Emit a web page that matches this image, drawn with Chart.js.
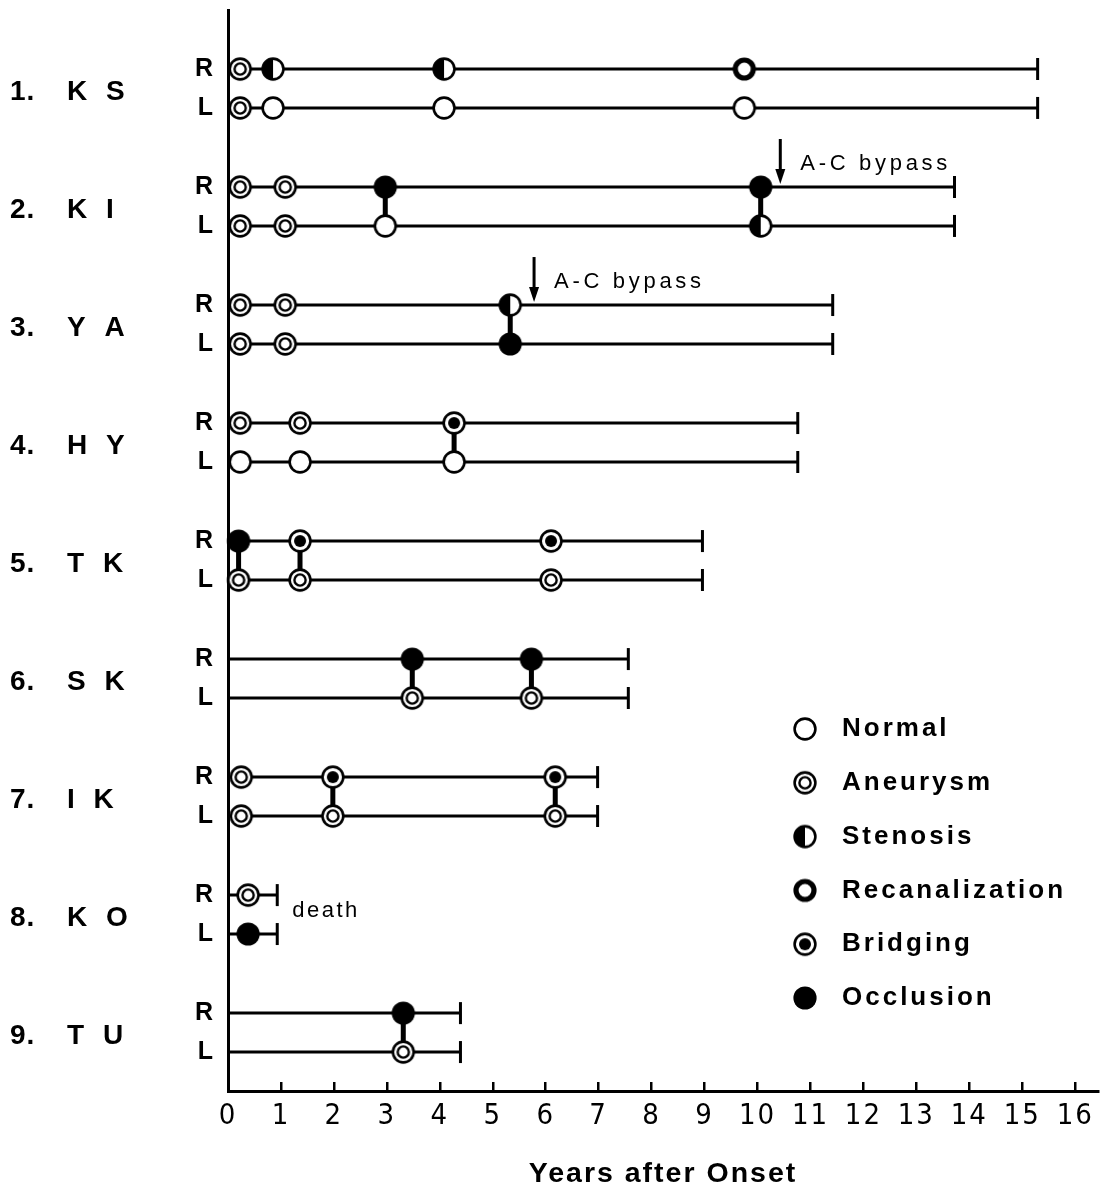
<!DOCTYPE html>
<html>
<head>
<meta charset="utf-8">
<title>Years after Onset</title>
<script src="https://cdn.jsdelivr.net/npm/chart.js@4.4.1/dist/chart.umd.min.js"></script>
<style>
  html, body { margin: 0; padding: 0; background: #fff; }
  canvas { display: block; }
</style>
</head>
<body>
<canvas id="chart" width="1101" height="1188"></canvas>
<script>
// patients, top to bottom
const patientNumbers = ['1.', '2.', '3.', '4.', '5.', '6.', '7.', '8.', '9.'];
const patientInitials = ['K S', 'K I', 'Y A', 'H Y', 'T K', 'S K', 'I K', 'K O', 'T U'];

// years of follow-up (end of each line)
const followUpYears = [15.29, 13.72, 11.42, 10.76, 8.96, 7.56, 6.98, 0.93, 4.39];

// years of each angiographic examination
const examYears = [
  [0.23, 0.85, 4.08, 9.75],
  [0.23, 1.08, 2.97, 10.06],
  [0.23, 1.08, 5.33],
  [0.23, 1.36, 4.27],
  [0.2, 1.36, 6.1],
  [3.48, 5.73],
  [0.25, 1.98, 6.18],
  [0.38],
  [3.31]
];

const rightFindings = [
  ['Aneurysm', 'Stenosis', 'Stenosis', 'Recanalization'],
  ['Aneurysm', 'Aneurysm', 'Occlusion', 'Occlusion'],
  ['Aneurysm', 'Aneurysm', 'Stenosis'],
  ['Aneurysm', 'Aneurysm', 'Bridging'],
  ['Occlusion', 'Bridging', 'Bridging'],
  ['Occlusion', 'Occlusion'],
  ['Aneurysm', 'Bridging', 'Bridging'],
  ['Aneurysm'],
  ['Occlusion']
];

const leftFindings = [
  ['Aneurysm', 'Normal', 'Normal', 'Normal'],
  ['Aneurysm', 'Aneurysm', 'Normal', 'Stenosis'],
  ['Aneurysm', 'Aneurysm', 'Occlusion'],
  ['Normal', 'Normal', 'Normal'],
  ['Aneurysm', 'Aneurysm', 'Aneurysm'],
  ['Aneurysm', 'Aneurysm'],
  ['Aneurysm', 'Aneurysm', 'Aneurysm'],
  ['Occlusion'],
  ['Aneurysm']
];

// years where R and L are joined by a bar
const linkedYears = [[], [2.97, 10.06], [5.33], [4.27], [0.2, 1.36], [3.48, 5.73], [1.98, 6.18], [], [3.31]];

// A-C bypass operation and death
const bypassYears = [null, 10.43, 5.78, null, null, null, null, null, null];
const deathPatient = 7;

const findings = ['Normal', 'Aneurysm', 'Stenosis', 'Recanalization', 'Bridging', 'Occlusion'];
const yearTicks = [0, 1, 2, 3, 4, 5, 6, 7, 8, 9, 10, 11, 12, 13, 14, 15, 16];

const LR_GAP = 0.33;
const rowY = (i, side) => i + (side === 'L' ? LR_GAP : 0);

const BOLD = "'Liberation Sans', Arial, Helvetica, sans-serif";
const NARROW = "'Liberation Sans Narrow', 'DejaVu Sans Condensed', sans-serif";

function makeSymbol(kind) {
  const c = document.createElement('canvas');
  c.width = 30; c.height = 30;
  const g = c.getContext('2d');
  const m = 15;
  const circle = r => { g.beginPath(); g.arc(m, m, r, 0, Math.PI * 2); };
  g.strokeStyle = '#000';
  g.fillStyle = '#fff';
  g.lineWidth = 2.6;
  if (kind === 'Occlusion') {
    circle(11.6); g.fillStyle = '#000'; g.fill();
    return c;
  }
  if (kind === 'Recanalization') {
    circle(9); g.fill(); g.lineWidth = 5.2; g.stroke();
    return c;
  }
  circle(10.4); g.fill();
  if (kind === 'Stenosis') {
    g.beginPath();
    g.arc(m, m, 10.4, Math.PI / 2, Math.PI * 1.5);
    g.closePath();
    g.fillStyle = '#000';
    g.fill();
  }
  circle(10.4); g.stroke();
  if (kind === 'Aneurysm') { circle(5.6); g.lineWidth = 2.4; g.stroke(); }
  if (kind === 'Bridging') { circle(6); g.fillStyle = '#000'; g.fill(); }
  return c;
}

const symbols = {};
findings.forEach(f => { symbols[f] = makeSymbol(f); });

const datasets = [];

// markers (drawn on top)
findings.forEach(f => {
  const pts = [];
  examYears.forEach((years, i) => {
    years.forEach((yr, j) => {
      if (rightFindings[i][j] === f) pts.push({ x: yr, y: rowY(i, 'R') });
      if (leftFindings[i][j] === f) pts.push({ x: yr, y: rowY(i, 'L') });
    });
  });
  datasets.push({
    type: 'scatter', label: f, data: pts,
    pointStyle: symbols[f], pointRadius: 11, clip: false, order: 0
  });
});

// bars joining R and L
linkedYears.forEach((years, i) => {
  years.forEach(yr => {
    datasets.push({
      type: 'line', data: [{ x: yr, y: rowY(i, 'R') }, { x: yr, y: rowY(i, 'L') }],
      borderColor: '#000', borderWidth: 5, pointRadius: 0, order: 1
    });
  });
});

// follow-up lines with end caps
followUpYears.forEach((end, i) => {
  ['R', 'L'].forEach(side => {
    datasets.push({
      type: 'line', data: [{ x: 0, y: rowY(i, side) }, { x: end, y: rowY(i, side) }],
      borderColor: '#000', borderWidth: 3,
      pointRadius: [0, 11], pointStyle: 'line', pointRotation: 90,
      pointBorderWidth: 3, pointBorderColor: '#000', clip: false, order: 2
    });
  });
});

const annotations = {
  id: 'annotations',
  beforeDraw(chart) {
    chart.ctx.letterSpacing = '2px';
  },
  afterDraw(chart) {
    const ctx = chart.ctx;
    const xs = chart.scales.x, ys = chart.scales.y;
    ctx.save();
    ctx.fillStyle = '#000';
    ctx.strokeStyle = '#000';
    ctx.textBaseline = 'middle';

    // patient labels
    ctx.font = 'bold 28px ' + BOLD;
    patientNumbers.forEach((num, i) => {
      const y = (ys.getPixelForValue(rowY(i, 'R')) + ys.getPixelForValue(rowY(i, 'L'))) / 2 + 4;
      ctx.letterSpacing = '1px';
      ctx.textAlign = 'left';
      ctx.fillText(num, 10, y);
      ctx.letterSpacing = '5.5px';
      ctx.fillText(patientInitials[i], 67, y);
    });

    // bypass arrows
    ctx.font = '22px ' + BOLD;
    ctx.letterSpacing = '3.7px';
    bypassYears.forEach((yr, i) => {
      if (yr === null) return;
      const x = xs.getPixelForValue(yr);
      const yTip = ys.getPixelForValue(rowY(i, 'R')) - 3;
      ctx.lineWidth = 3;
      ctx.beginPath();
      ctx.moveTo(x, yTip - 45);
      ctx.lineTo(x, yTip - 12);
      ctx.stroke();
      ctx.beginPath();
      ctx.moveTo(x - 5, yTip - 15);
      ctx.lineTo(x + 5, yTip - 15);
      ctx.lineTo(x, yTip);
      ctx.closePath();
      ctx.fill();
      ctx.fillText('A-C bypass', x + 20, yTip - 20);
    });

    // death
    const dx = xs.getPixelForValue(followUpYears[deathPatient]) + 15;
    const dy = (ys.getPixelForValue(rowY(deathPatient, 'R')) + ys.getPixelForValue(rowY(deathPatient, 'L'))) / 2 - 4;
    ctx.letterSpacing = '2.5px';
    ctx.fillText('death', dx, dy);

    // legend
    ctx.font = 'bold 26px ' + BOLD;
    ctx.letterSpacing = '3px';
    findings.forEach((f, k) => {
      const y = 729 + k * 53.8;
      ctx.drawImage(symbols[f], 805 - 15, y - 15);
      ctx.fillText(f, 842, y);
    });
    ctx.restore();
    ctx.letterSpacing = '0px';
  }
};

new Chart(document.getElementById('chart'), {
  type: 'scatter',
  data: { datasets: datasets },
  options: {
    responsive: false,
    animation: false,
    events: [],
    layout: { autoPadding: false, padding: { top: 10, right: 3, bottom: 0, left: 0 } },
    plugins: { legend: { display: false }, tooltip: { enabled: false } },
    scales: {
      x: {
        type: 'linear', min: 0, max: 16.43,
        afterBuildTicks: s => { s.ticks = yearTicks.map(v => ({ value: v })); },
        afterFit: s => { s.height = 97; s.paddingLeft = 0; s.paddingRight = 0; },
        grid: { drawOnChartArea: false, drawTicks: true, tickLength: -9, lineWidth: 2.5, color: '#000' },
        border: { display: true, width: 3, color: '#000' },
        ticks: { color: '#000', padding: 17, autoSkip: false, maxRotation: 0, font: { family: NARROW, size: 29 } },
        title: {
          display: true, text: 'Years after Onset', color: '#000',
          font: { family: BOLD, size: 28.5, weight: 'bold', lineHeight: 1 },
          padding: { top: 0, bottom: 0 }
        }
      },
      y: {
        type: 'linear', reverse: true, min: -0.5, max: 8.66,
        afterBuildTicks: s => {
          const t = [];
          patientNumbers.forEach((n, i) => { t.push({ value: rowY(i, 'R') }, { value: rowY(i, 'L') }); });
          s.ticks = t;
        },
        afterFit: s => { s.width = 228; s.paddingTop = 0; s.paddingBottom = 0; },
        grid: { drawOnChartArea: false, drawTicks: false },
        border: { display: true, width: 3, color: '#000' },
        ticks: {
          color: '#000', padding: 13, autoSkip: false,
          font: { family: BOLD, size: 25, weight: 'bold' },
          callback: v => (Math.abs(v - Math.round(v)) < 0.01 ? 'R' : 'L')
        }
      }
    }
  },
  plugins: [annotations]
});
</script>
</body>
</html>
